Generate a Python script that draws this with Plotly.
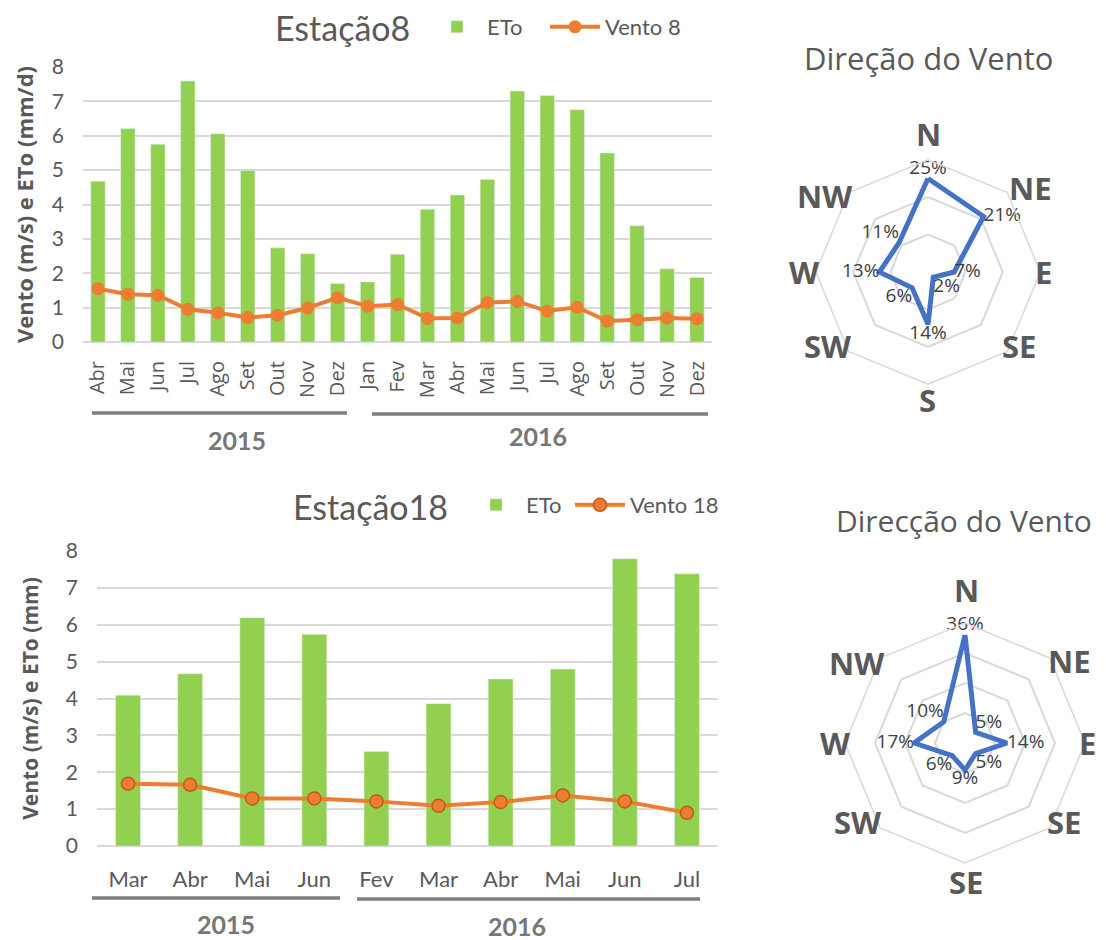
import plotly.graph_objects as go

W, H = 1106, 940
OFF = 8  # the page body adds an 8px margin around the figure

# ---------- data ----------
months_8 = ["Abr", "Mai", "Jun", "Jul", "Ago", "Set", "Out", "Nov", "Dez",
            "Jan", "Fev", "Mar", "Abr", "Mai", "Jun", "Jul", "Ago", "Set", "Out", "Nov", "Dez"]
eto_8 = [4.68, 6.21, 5.75, 7.59, 6.06, 4.99, 2.74, 2.57, 1.70,
         1.75, 2.55, 3.86, 4.28, 4.73, 7.30, 7.17, 6.76, 5.50, 3.38, 2.13, 1.88]
vento_8 = [1.55, 1.39, 1.36, 0.95, 0.85, 0.71, 0.78, 0.99, 1.29,
           1.04, 1.09, 0.69, 0.70, 1.15, 1.18, 0.90, 1.01, 0.61, 0.65, 0.70, 0.68]

months_18 = ["Mar", "Abr", "Mai", "Jun", "Fev", "Mar", "Abr", "Mai", "Jun", "Jul"]
eto_18 = [4.09, 4.67, 6.19, 5.74, 2.56, 3.86, 4.53, 4.80, 7.79, 7.38]
vento_18 = [1.69, 1.66, 1.29, 1.29, 1.21, 1.09, 1.19, 1.37, 1.21, 0.90]

years = ["2015", "2016"]

dir_keys = ["N", "NE", "E", "SE", "S", "SW", "W", "NW"]
dirs_8 = ["N", "NE", "E", "SE", "S", "SW", "W", "NW"]
pct_8 = [25, 21, 7, 2, 14, 6, 13, 11]
dirs_18 = ["N", "NE", "E", "SE", "SE", "SW", "W", "NW"]
pct_18 = [36, 5, 14, 5, 9, 6, 17, 10]

# ---------- style ----------
GREEN = "#92d050"
ORANGE = "#ed7d31"
BLUE = "#4472c4"
GRID = "#d9d9d9"
TXT = "#595959"
CAL = "Lato, Carlito, Calibri, sans-serif"
WIDE = "Open Sans, DejaVu Sans, sans-serif"


def px(x):
    return (x - OFF) / W


def py(y):
    return 1 - (y - OFF) / H


fig = go.Figure()

# ---------- top bar chart ----------
x8 = list(range(len(months_8)))
fig.add_trace(go.Bar(x=x8, y=eto_8, name="ETo", marker_color=GREEN, width=0.48,
                     xaxis="x", yaxis="y", legend="legend"))
fig.add_trace(go.Scatter(x=x8, y=vento_8, name="Vento 8", mode="lines+markers",
                         line=dict(color=ORANGE, width=4),
                         marker=dict(color=ORANGE, size=13),
                         xaxis="x", yaxis="y", legend="legend2"))

# ---------- bottom bar chart ----------
x18 = list(range(len(months_18)))
fig.add_trace(go.Bar(x=x18, y=eto_18, name="ETo", marker_color=GREEN, width=0.4,
                     xaxis="x2", yaxis="y2", legend="legend3"))
fig.add_trace(go.Scatter(x=x18, y=vento_18, name="Vento 18", mode="lines+markers",
                         line=dict(color=ORANGE, width=4),
                         marker=dict(color=ORANGE, size=13, line=dict(color="#c55a11", width=1.5)),
                         xaxis="x2", yaxis="y2", legend="legend4"))

# ---------- radar charts ----------
pos_8 = ["top center", "middle right", "middle right", "bottom right",
         "bottom center", "bottom left", "middle left", "top left"]
pos_18 = ["top center", "top right", "middle right", "bottom right",
          "bottom center", "bottom left", "middle left", "top left"]
for pct, sub, pos in ((pct_8, "polar", pos_8), (pct_18, "polar2", pos_18)):
    fig.add_trace(go.Scatterpolar(r=pct + pct[:1], theta=dir_keys + dir_keys[:1],
                                  mode="lines+text",
                                  text=[f"{v}%" for v in pct] + [""],
                                  textposition=pos + ["top center"],
                                  textfont=dict(size=19, color="#404040", family=WIDE),
                                  line=dict(color=BLUE, width=5), showlegend=False,
                                  subplot=sub))

yax_common = dict(range=[0, 8], dtick=1, gridcolor=GRID, gridwidth=1.5,
                  zeroline=True, zerolinecolor=GRID, zerolinewidth=1.5,
                  tickfont=dict(size=21, color=TXT, family=CAL), showline=False,
                  ticks="", fixedrange=True, ticklabelstandoff=18)


def polar_cfg(cx, cy, rad, rmax):
    h = rad / 0.9
    return dict(
        domain=dict(x=[px(cx - h), px(cx + h)], y=[py(cy + h), py(cy - h)]),
        bgcolor="rgba(0,0,0,0)",
        gridshape="linear",
        radialaxis=dict(range=[0, rmax], dtick=10, showticklabels=False, ticks="",
                        showline=False, gridcolor=GRID, gridwidth=1.5),
        angularaxis=dict(type="category", rotation=90, direction="clockwise",
                         categoryorder="array", categoryarray=dir_keys,
                         showticklabels=False, showgrid=False, showline=True,
                         linecolor=GRID, linewidth=1.5, ticks=""),
    )


def leg(x, y):
    return dict(orientation="h", x=px(x), y=py(y), xanchor="left", yanchor="middle",
                font=dict(size=22, color=TXT, family=CAL), bgcolor="rgba(0,0,0,0)",
                itemwidth=50)


layout = dict(
    width=W, height=H, margin=dict(l=0, r=0, t=0, b=0, autoexpand=False),
    paper_bgcolor="white", plot_bgcolor="white",
    xaxis=dict(domain=[px(83), px(712)], range=[-0.5, len(months_8) - 0.5],
               tickmode="array", tickvals=x8, ticktext=months_8, tickangle=-90,
               tickfont=dict(size=20, color=TXT, family=WIDE), showgrid=False,
               zeroline=False, showline=False, ticks="outside", ticklen=10,
               tickcolor="rgba(0,0,0,0)", anchor="y"),
    yaxis=dict(domain=[py(342), py(67)], anchor="x",
               title=dict(text="<b>Vento (m/s) e ETo (mm/d)</b>",
                          font=dict(size=22, color=TXT, family=WIDE), standoff=12),
               **yax_common),
    xaxis2=dict(domain=[px(97), px(718)], range=[-0.5, len(months_18) - 0.5],
                tickmode="array", tickvals=x18, ticktext=months_18,
                tickfont=dict(size=22, color=TXT, family=CAL), showgrid=False,
                zeroline=False, showline=False, ticks="outside", ticklen=14,
                tickcolor="rgba(0,0,0,0)", anchor="y2"),
    yaxis2=dict(domain=[py(846), py(551)], anchor="x2",
                title=dict(text="<b>Vento (m/s) e ETo (mm)</b>",
                           font=dict(size=21, color=TXT, family=WIDE), standoff=21),
                **yax_common),
    polar=polar_cfg(928, 272, 101, 30),
    polar2=polar_cfg(965, 743, 108, 40),
    legend=leg(427, 27),
    legend2=leg(545, 27),
    legend3=leg(466, 505),
    legend4=leg(570, 505),
    showlegend=True,
)
fig.update_layout(**layout)

# titles
ann = [
    dict(text="Estação8", x=342, y=27, size=34, fam=CAL),
    dict(text="Estação18", x=370, y=507, size=34, fam=CAL),
    dict(text="Direção do Vento", x=928, y=58, size=31, fam=WIDE),
    dict(text="Direcção do Vento", x=964, y=520, size=30, fam=WIDE),
]
for a in ann:
    fig.add_annotation(text=a["text"], x=px(a["x"]), y=py(a["y"]), xref="paper", yref="paper",
                       showarrow=False, xanchor="center", yanchor="middle",
                       font=dict(size=a["size"], color=TXT, family=a["fam"]))

# compass labels around each radar (label positions in page pixels)
lab_pos_8 = [(928, 134), (1030, 188), (1043, 272), (1019, 346),
             (927, 400), (827, 346), (804, 272), (824, 196)]
lab_pos_18 = [(966, 590), (1069, 661), (1087, 743), (1064, 822),
              (966, 882), (857, 822), (835, 743), (856, 663)]
for labels, posl in ((dirs_8, lab_pos_8), (dirs_18, lab_pos_18)):
    for t, (lx, ly) in zip(labels, posl):
        fig.add_annotation(text=f"<b>{t}</b>", x=px(lx), y=py(ly), xref="paper", yref="paper",
                           showarrow=False, xanchor="center", yanchor="middle",
                           font=dict(size=31, color=TXT, family=WIDE))

# year group labels and lines
groups = [
    (years[0], 92, 347, 413, 237, 440),
    (years[1], 372, 708, 414, 538, 436),
    (years[0], 92, 340, 898, 226, 924),
    (years[1], 357, 700, 899, 517, 926),
]
for label, x0, x1, yl, xt, yt in groups:
    fig.add_shape(type="line", xref="paper", yref="paper", x0=px(x0), x1=px(x1),
                  y0=py(yl), y1=py(yl), line=dict(color="#7f7f7f", width=3.5))
    fig.add_annotation(text=f"<b>{label}</b>", x=px(xt), y=py(yt), xref="paper", yref="paper",
                       showarrow=False, xanchor="center", yanchor="middle",
                       font=dict(size=25, color="#767676", family=CAL))

fig.write_html("out.html")
